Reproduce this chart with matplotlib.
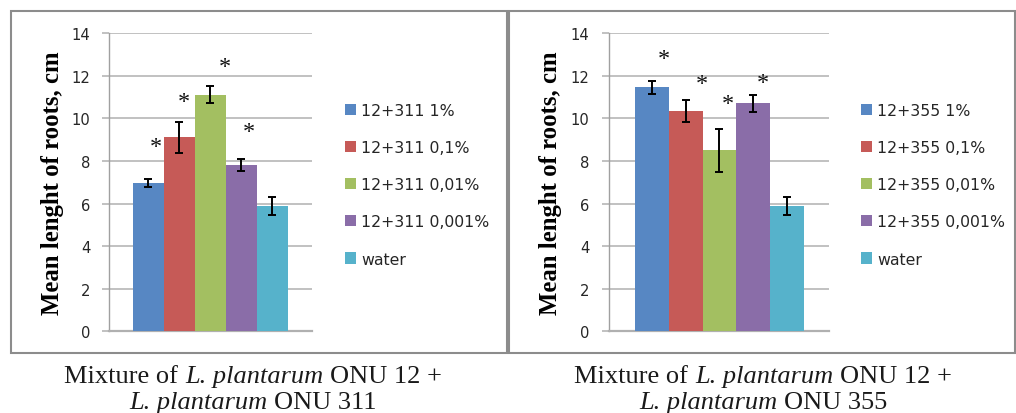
import matplotlib
matplotlib.use('Agg')
import matplotlib.pyplot as plt
from matplotlib.patches import Rectangle
import numpy as np

# ---------------- data ----------------
series_left = ['12+311 1%', '12+311 0,1%', '12+311 0,01%', '12+311 0,001%', 'water']
means_left = [6.98, 9.11, 11.11, 7.81, 5.88]
err_left = [0.19, 0.72, 0.40, 0.30, 0.42]
stars_left_x = [0.24, 1.15, 2.47, 3.24]
stars_left_y = [8.95, 11.05, 12.74, 9.66]

series_right = ['12+355 1%', '12+355 0,1%', '12+355 0,01%', '12+355 0,001%', 'water']
means_right = [11.46, 10.33, 8.50, 10.71, 5.88]
err_right = [0.31, 0.52, 1.00, 0.40, 0.42]
stars_right_x = [0.37, 1.49, 2.26, 3.30]
stars_right_y = [13.10, 11.93, 10.99, 11.96]

yticks = [0, 2, 4, 6, 8, 10, 12, 14]
ylabel = 'Mean lenght of roots, cm'
caption_left = [[('Mixture of', 'normal'), ('L. plantarum', 'italic'), ('ONU 12 +', 'normal')],
                [('L. plantarum', 'italic'), ('ONU 311', 'normal')]]
caption_right = [[('Mixture of', 'normal'), ('L. plantarum', 'italic'), ('ONU 12 +', 'normal')],
                 [('L. plantarum', 'italic'), ('ONU 355', 'normal')]]

colors = ['#5787C3', '#C65A57', '#A3BF61', '#8A6DA8', '#56B2CB']

# ---------------- layout helpers ----------------
W, H = 1016, 414
fig = plt.figure(figsize=(W / 100, H / 100), dpi=100)
fig.patch.set_facecolor('white')

def fx(px):
    return px / W

def fy(py):
    return 1 - py / H

grid_c = '#b0b0b0'
axis_c = '#a0a0a0'
frame_c = '#8c8c8c'

def make_panel(ax_px, means, errs, labels, stars_x, stars_y, xlim, label_x, legend_px):
    x0, x1, ytop, ybot = ax_px
    ax = fig.add_axes([fx(x0), fy(ybot), fx(x1) - fx(x0), fy(ytop) - fy(ybot)])
    xs = np.arange(len(means))
    bars = []
    for i in range(len(means)):
        b = ax.bar(xs[i], means[i], width=1.0, color=colors[i], zorder=3,
                   label=labels[i], linewidth=0)
        bars.append(b[0])
    ax.errorbar(xs, means, yerr=errs, fmt='none', ecolor='black',
                elinewidth=1.4, capsize=3.2, capthick=1.4, zorder=4)
    for sx, sy in zip(stars_x, stars_y):
        ax.annotate('*', (sx, sy), xytext=(0, -8.2), textcoords='offset points',
                    ha='center', va='baseline', fontsize=17.5,
                    family='Liberation Serif', color='#111111', zorder=5)
    ax.set_xlim(*xlim)
    ax.set_ylim(0, 14)
    ax.set_yticks(yticks)
    ax.set_yticklabels([str(t) for t in yticks])
    ax.set_xticks([])
    ax.grid(axis='y', color=grid_c, linewidth=1.1, zorder=0)
    ax.set_axisbelow(True)
    for s in ['top', 'right']:
        ax.spines[s].set_visible(False)
    ax.spines['left'].set_color(axis_c)
    ax.spines['left'].set_linewidth(1.0)
    ax.spines['bottom'].set_color(grid_c)
    ax.spines['bottom'].set_linewidth(1.6)
    ax.tick_params(axis='y', direction='out', length=4.8, width=1.1, color=grid_c,
                   pad=9, labelsize=10.6, labelcolor='#262626')
    ax.set_ylabel(ylabel, family='Liberation Serif', fontweight='bold', fontsize=17.8,
                  va='center', color='black')
    ax.yaxis.set_label_coords((label_x - x0) / (x1 - x0), 0.501)
    leg = ax.legend(bars, labels, loc='upper left',
                    bbox_to_anchor=(fx(legend_px[0]), fy(legend_px[1])),
                    bbox_transform=fig.transFigure, frameon=False,
                    fontsize=11.3, handlelength=0.72, handleheight=0.72,
                    handletextpad=0.32, labelspacing=1.41, borderpad=0,
                    borderaxespad=0)
    for t in leg.get_texts():
        t.set_color('#262626')
    return ax

make_panel((109.3, 312.0, 34.3, 332.3), means_left, err_left, series_left,
           stars_left_x, stars_left_y, (-1.255, 5.274), 52.5, (345, 104))
make_panel((608.7, 828.7, 34.3, 332.3), means_right, err_right, series_right,
           stars_right_x, stars_right_y, (-1.28, 5.24), 551.0, (861, 104))

# frames
for (a, b) in [(11, 506.7), (509.3, 1015.0)]:
    fig.add_artist(Rectangle((fx(a), fy(354)), fx(b) - fx(a), fy(12.3) - fy(354),
                             transform=fig.transFigure, fill=False,
                             edgecolor=frame_c, linewidth=1.5))

# captions with mixed italic
renderer = fig.canvas.get_renderer()
CAP_FS = 19

def text_width(s, style):
    t = fig.text(0, 0, s, fontsize=CAP_FS, family='Liberation Serif', style=style)
    w = t.get_window_extent(renderer).width
    t.remove()
    return w

space_w = text_width('M M', 'normal') - text_width('MM', 'normal')

def draw_caption(lines, cx, baselines):
    for segs, by in zip(lines, baselines):
        widths = [text_width(s, st) for s, st in segs]
        total = sum(widths) + space_w * (len(segs) - 1)
        x = cx - total / 2
        for (s, st), w in zip(segs, widths):
            fig.text(fx(x), fy(by), s, fontsize=CAP_FS, family='Liberation Serif',
                     style=st, ha='left', va='baseline', color='#1a1a1a')
            x += w + space_w

draw_caption(caption_left, 253, [383.3, 409.3])
draw_caption(caption_right, 763, [383.3, 409.3])

fig.savefig('out.png', dpi=100, facecolor='white')
